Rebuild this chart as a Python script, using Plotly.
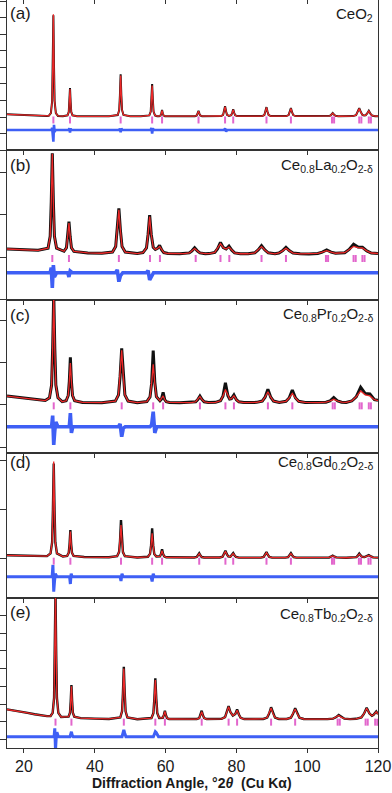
import plotly.graph_objects as go

# ---------------- data ----------------
# (a) CeO2
tt_a = [15.2, 18, 21, 24, 26.5, 27.0,
        27.6, 27.95, 28.125, 28.3, 28.475, 28.65, 29.0,
        29.6, 31.0,
        32.3, 32.65, 32.825, 33.0, 33.175, 33.35, 33.7,
        35, 40, 44,
        46.5, 46.9, 47.1, 47.3, 47.5, 47.7, 48.1,
        50, 53,
        55.4, 55.8, 56.0, 56.2, 56.4, 56.6, 57.0,
        57.6,
        58.2, 58.6, 58.8, 59.0, 59.2, 59.4, 59.8,
        63,
        68.3, 68.8, 69.05, 69.3, 69.55, 69.8, 70.3,
        74,
        75.7, 76.25, 76.525, 76.8, 77.075, 77.35, 77.9,
        78.55, 78.825, 79.1, 79.375, 79.65, 80.2,
        84,
        87.3, 87.9, 88.2, 88.5, 88.8, 89.1, 89.7,
        93,
        94.1, 94.75, 95.075, 95.4, 95.725, 96.05, 96.7,
        102,
        105.6, 106.4, 106.8, 107.2, 107.6, 108.0, 108.8,
        111.5,
        112.9, 113.8, 114.25, 114.7, 115.15, 115.6,
        116.05, 116.5, 116.95, 117.4, 117.85, 118.3, 119.2, 120]
obs_a = [165, 130, 100, 72, 60, 70,
         238, 970, 3105, 6160, 3105, 970, 238,
         65, 50,
         101, 305, 900, 1750, 900, 305, 101,
         45, 40, 45,
         122, 427, 1320, 2595, 1320, 427, 122,
         45, 40,
         98, 332, 1015, 1990, 1015, 332, 98,
         48,
         51, 97, 230, 420, 230, 97, 51,
         40,
         50, 90, 205, 370, 205, 90, 50,
         40,
         59, 133, 350, 660, 350, 133, 70,
         111, 255, 470, 255, 105, 53,
         40,
         57, 124, 320, 600, 320, 124, 57,
         40,
         55, 115, 290, 540, 290, 115, 55,
         40,
         46, 70, 140, 240, 140, 70, 46,
         42,
         55, 115, 290, 540, 297, 125,
         98, 105, 215, 375, 205, 90, 50, 45]
calc_a = [160, 128, 100, 72, 60, 70,
          238, 970, 3105, 6220, 3105, 970, 238,
          65, 50,
          101, 305, 900, 1700, 900, 305, 101,
          45, 40, 45,
          122, 427, 1320, 2520, 1320, 427, 122,
          45, 40,
          98, 332, 1015, 1900, 1015, 332, 98,
          48,
          51, 97, 230, 400, 230, 97, 51,
          40,
          50, 90, 205, 350, 205, 90, 50,
          40,
          59, 133, 350, 630, 350, 133, 70,
          111, 255, 450, 255, 105, 53,
          40,
          57, 124, 320, 580, 320, 124, 57,
          40,
          55, 115, 290, 520, 290, 115, 55,
          40,
          46, 70, 140, 225, 140, 70, 46,
          42,
          55, 115, 290, 520, 297, 125,
          98, 105, 215, 360, 205, 90, 50, 45]
dtt_a = [15.2, 27.8, 27.95, 28.125, 28.3, 28.475, 28.65, 28.9,
         32.65, 32.825, 33.0, 33.175, 33.4,
         46.9, 47.1, 47.3, 47.5, 47.8,
         55.8, 56.0, 56.2, 56.4, 56.7,
         76.5, 76.8, 77.1, 77.4, 120]
diff_a = [-790, -790, -650, -1150, -1500, -480, -900, -790,
          -790, -680, -950, -700, -790,
          -790, -700, -920, -700, -790,
          -790, -660, -1000, -700, -790,
          -790, -700, -880, -790, -790]
bragg_a = [28.3, 33.0, 47.3, 56.2, 59.0, 69.3, 76.8, 79.1, 88.5, 95.4,
           107.0, 107.6, 114.7, 115.3, 117.4, 118.0]

# (b) Ce0.8La0.2O2-d
tt_b = [15.2, 18, 21, 24,
        26.8, 27.4, 27.7, 28.0, 28.3, 28.6, 29.2,
        31.3, 32.0, 32.35, 32.7, 33.05, 33.4, 34.1,
        38, 42,
        45.0, 45.9, 46.35, 46.8, 47.25, 47.7, 48.6,
        52,
        53.6, 54.6, 55.05, 55.5, 55.95, 56.5,
        57.1, 57.7, 58.3, 58.9, 59.5, 60.7,
        64,
        65.2, 66.7, 67.45, 68.2, 68.95, 69.7, 71.2,
        72.3, 73.9, 74.7, 75.5, 76.3,
        77.1, 77.9, 78.7, 79.5, 81.1,
        83.3, 85.2, 86.15, 87.1, 88.05, 89.0, 90.9,
        92.0, 93.0, 94.0, 95.0, 96.0, 98.0,
        100.5, 103.0, 104.25, 105.5, 106.75, 108.0,
        110.6, 111.85, 113.1, 114.35, 115.6, 116.85, 118.1, 120]
obs_b = [190, 182, 172, 160,
         209, 485, 1290, 2440, 1290, 485, 209,
         135, 218, 470, 830, 470, 218, 132,
         95, 88,
         117, 244, 615, 1145, 615, 244, 117,
         80,
         104, 214, 532, 987, 532, 228,
         177, 203, 275, 167, 104, 82,
         75,
         79, 96, 145, 215, 145, 96, 79,
         80, 109, 197, 345, 221,
         189, 255, 160, 96, 77,
         76, 99, 165, 265, 165, 99, 76,
         94, 145, 225, 145, 92, 75,
         73, 84, 115, 165, 115, 88,
         102, 178, 300, 235, 230, 144, 94, 85]
calc_b = [188, 180, 170, 158,
          209, 485, 1290, 2430, 1290, 485, 209,
          135, 218, 470, 800, 470, 218, 132,
          95, 88,
          117, 244, 615, 1110, 615, 244, 117,
          80,
          104, 214, 532, 950, 532, 228,
          177, 203, 250, 167, 104, 82,
          75,
          79, 96, 145, 200, 145, 96, 79,
          80, 109, 197, 312, 221,
          189, 235, 160, 96, 77,
          76, 99, 165, 245, 165, 99, 76,
          94, 145, 205, 145, 92, 75,
          73, 84, 115, 150, 115, 88,
          102, 178, 250, 222, 212, 144, 94, 82]
dtt_b = [15.2, 27.4, 27.7, 28.0, 28.3, 28.6, 29.2,
         32.35, 32.7, 33.05, 33.6,
         45.9, 46.35, 46.8, 47.25, 47.9,
         54.6, 55.05, 55.5, 55.95, 56.6, 120]
diff_b = [-369, -369, -250, -730, -190, -470, -369,
          -369, -470, -330, -369,
          -369, -300, -580, -440, -369,
          -369, -320, -540, -450, -369, -369]
bragg_b = [28.0, 32.7, 46.8, 55.6, 58.4, 68.5, 75.5, 78.0, 87.1, 94.0,
           105.3, 105.9, 113.1, 113.7, 115.6, 116.2]

# (c) Ce0.8Pr0.2O2-d
tt_c = [15.2, 18, 21, 24, 26.0,
        27.2, 27.8, 28.1, 28.4, 28.7, 29.0, 29.6,
        30.8,
        31.9, 32.5, 32.8, 33.1, 33.4, 33.7, 34.3,
        36.5, 42,
        45.8, 46.7, 47.15, 47.6, 48.05, 48.5, 49.4,
        52,
        54.7, 55.6, 56.05, 56.5, 56.95, 57.4,
        58.4, 58.85, 59.3, 59.75, 60.2, 61.1,
        64,
        67.3, 68.5, 69.1, 69.7, 70.3, 70.9, 72.1,
        74.1, 75.5, 76.2, 76.9, 77.6, 78.1,
        78.6, 79.3, 80.0, 80.7, 82.1,
        85.7, 87.3, 88.1, 88.9, 89.7, 90.5, 92.1,
        94.0, 94.9, 95.8, 96.7, 97.6, 99.4,
        103.1, 105.3, 106.4, 107.5, 108.6, 109.7, 111.0,
        112.6, 113.85, 115.1, 116.4, 117.7, 119.0, 120]
obs_c = [212, 185, 155, 125, 105,
         170, 470, 1345, 2650, 1345, 470, 170,
         78,
         100, 225, 560, 1125, 560, 225, 100,
         60, 54,
         92, 240, 680, 1338, 680, 240, 92,
         54,
         81, 190, 510, 1282, 540, 195,
         99, 143, 300, 129, 76, 60,
         54,
         58, 76, 127, 210, 127, 76, 58,
         63, 99, 208, 526, 218, 142,
         149, 236, 125, 75, 58,
         62, 93, 184, 370, 184, 93, 62,
         87, 165, 354, 165, 87, 60,
         56, 66, 94, 175, 94, 66, 60,
         95, 193, 418, 270, 260, 126, 110]
calc_c = [210, 183, 154, 124, 104,
          170, 470, 1345, 2600, 1345, 470, 170,
          78,
          100, 225, 560, 990, 560, 225, 100,
          60, 54,
          92, 240, 680, 1290, 680, 240, 92,
          54,
          81, 190, 510, 960, 510, 195,
          99, 143, 213, 129, 76, 60,
          54,
          58, 76, 127, 200, 127, 76, 58,
          63, 99, 208, 364, 218, 142,
          149, 217, 125, 75, 58,
          62, 93, 184, 314, 184, 93, 62,
          87, 165, 276, 165, 87, 60,
          56, 66, 94, 134, 94, 66, 60,
          95, 193, 330, 240, 213, 126, 105]
dtt_c = [15.2, 27.8, 28.1, 28.4, 28.7, 29.0, 29.6,
         32.8, 33.1, 33.4, 33.8,
         46.7, 47.15, 47.6, 48.05, 48.6,
         55.6, 56.05, 56.5, 56.95, 57.5, 120]
diff_c = [-512, -512, -250, -944, -600, -400, -512,
          -512, -190, -660, -512,
          -512, -450, -748, -550, -512,
          -512, -470, -158, -660, -512, -512]
bragg_c = [28.4, 33.1, 47.6, 56.5, 59.3, 69.7, 76.9, 79.3, 88.9, 95.8,
           107.2, 107.8, 114.8, 115.4, 117.4, 118.0]

# (d) Ce0.8Gd0.2O2-d
tt_d = [15.2, 18, 21, 24, 26.5,
        27.5, 27.95, 28.175, 28.4, 28.625, 28.85, 29.3,
        31,
        32.2, 32.65, 32.875, 33.1, 33.325, 33.55, 34.0,
        37, 44,
        46.3, 46.85, 47.125, 47.4, 47.675, 47.95, 48.5,
        52,
        55.0, 55.6, 55.9, 56.2, 56.5, 56.8, 57.4,
        58.4, 58.7, 59.0, 59.3, 59.6, 60.2,
        65,
        68.1, 68.8, 69.15, 69.5, 69.85, 70.2, 70.9,
        74,
        75.3, 76.1, 76.5, 76.9, 77.3, 77.7,
        78.3, 78.7, 79.1, 79.5, 79.9, 80.7,
        84,
        86.9, 87.7, 88.1, 88.5, 88.9, 89.3, 90.1,
        93,
        93.8, 94.6, 95.0, 95.4, 95.8, 96.2, 97.0,
        104,
        106.2, 106.7, 107.2, 107.7, 108.2,
        111,
        113.1, 113.9, 114.3, 114.7, 115.1, 115.5,
        116.2, 116.8, 117.4, 118.0, 118.6, 120]
obs_d = [75, 70, 65, 60, 58,
         115, 343, 1008, 1950, 1008, 343, 115,
         50,
         64, 128, 304, 592, 304, 128, 64,
         40, 35,
         56, 140, 365, 796, 365, 140, 56,
         30,
         45, 104, 277, 626, 277, 104, 50,
         55, 100, 198, 100, 55, 35,
         27,
         30, 40, 70, 116, 70, 40, 30,
         25,
         30, 46, 97, 170, 97, 51,
         46, 76, 120, 73, 40, 28,
         25,
         28, 42, 83, 140, 83, 42, 28,
         25,
         28, 39, 73, 120, 73, 39, 28,
         25,
         32, 47, 70, 47, 32,
         25,
         28, 38, 68, 110, 71, 45,
         38, 55, 80, 53, 33, 27]
calc_d = [72, 68, 64, 60, 58,
          115, 343, 1008, 1990, 1008, 343, 115,
          50,
          64, 128, 304, 560, 304, 128, 64,
          40, 35,
          56, 140, 365, 694, 365, 140, 56,
          30,
          45, 104, 277, 524, 277, 104, 50,
          55, 100, 170, 100, 55, 35,
          27,
          30, 40, 70, 110, 70, 40, 30,
          25,
          30, 46, 97, 155, 97, 51,
          46, 76, 110, 73, 40, 28,
          25,
          28, 42, 83, 128, 83, 42, 28,
          25,
          28, 39, 73, 110, 73, 39, 28,
          25,
          32, 47, 62, 47, 32,
          25,
          28, 38, 68, 100, 71, 45,
          38, 55, 72, 53, 33, 27]
dtt_d = [15.2, 27.95, 28.175, 28.4, 28.625, 28.85, 29.3,
         32.875, 33.1, 33.325, 33.6,
         47.125, 47.4, 47.675, 48.0,
         55.9, 56.2, 56.5, 56.8, 120]
diff_d = [-361, -361, -122, -667, -450, -300, -361,
          -361, -510, -300, -361,
          -361, -450, -300, -361,
          -361, -460, -300, -361, -361]
bragg_d = [28.4, 33.1, 47.4, 56.2, 59.0, 69.5, 76.9, 79.1, 88.5, 95.4,
           107.0, 107.6, 114.6, 115.2, 117.3, 117.9]

# (e) Ce0.8Tb0.2O2-d
tt_e = [15.2, 17, 19, 21, 23, 25, 26.5, 27.5,
        28.1, 28.5, 28.7, 28.9, 29.1, 29.3, 29.7,
        30.5,
        32.6, 33.0, 33.2, 33.4, 33.6, 33.8, 34.2,
        36, 40, 44,
        47.2, 47.7, 47.95, 48.2, 48.45, 48.7, 49.2,
        52,
        56.0, 56.55, 56.825, 57.1, 57.375, 57.65, 58.2,
        59.2, 59.5, 59.8, 60.1, 60.4, 61.0,
        65,
        68.8, 69.5, 69.85, 70.2, 70.55, 70.9, 71.6,
        74,
        75.8, 76.8, 77.3, 77.8, 78.3, 79.0,
        79.7, 80.2, 80.7, 81.2, 82.2,
        85,
        87.6, 88.7, 89.25, 89.8, 90.35, 90.9, 92.0,
        94.2, 95.4, 96.0, 96.6, 97.2, 97.8, 99.0,
        104,
        105.7, 107.3, 108.1, 108.9, 109.7, 110.5, 112.1,
        113.8, 115.3, 116.05, 116.8, 117.55,
        118.3, 118.75, 119.5, 120]
obs_e = [700, 650, 580, 500, 420, 350, 315, 320,
         500, 1340, 3790, 7400, 3790, 1340, 500,
         265,
         285, 506, 1150, 2073, 1150, 506, 285,
         200, 172, 155,
         238, 592, 1625, 3108, 1625, 592, 238,
         140,
         207, 483, 1288, 2450, 1288, 483, 214,
         222, 373, 622, 363, 206, 152,
         135,
         149, 200, 360, 622, 360, 200, 149,
         135,
         157, 256, 530, 887, 549, 347,
         440, 700, 410, 217, 150,
         135,
         155, 233, 460, 814, 460, 233, 155,
         153, 228, 445, 757, 445, 228, 153,
         135,
         145, 171, 248, 379, 248, 171, 145,
         163, 239, 453, 791, 477,
         335, 387, 580, 430]
calc_e = [690, 640, 575, 495, 418, 350, 315, 320,
          500, 1340, 3790, 7300, 3790, 1340, 500,
          265,
          285, 506, 1150, 2000, 1150, 506, 285,
          200, 172, 155,
          238, 592, 1625, 3000, 1625, 592, 238,
          140,
          207, 483, 1288, 2350, 1288, 483, 214,
          222, 373, 580, 363, 206, 152,
          135,
          149, 200, 360, 560, 360, 200, 149,
          135,
          157, 256, 530, 850, 549, 347,
          440, 650, 410, 217, 150,
          135,
          155, 233, 460, 780, 460, 233, 155,
          153, 228, 445, 720, 445, 228, 153,
          135,
          145, 171, 248, 350, 248, 171, 145,
          163, 239, 453, 760, 477,
          335, 387, 555, 425]
dtt_e = [15.2, 28.5, 28.7, 28.9, 29.1, 29.3, 29.7,
         33.0, 33.2, 33.4, 33.6, 33.9,
         47.7, 47.95, 48.2, 48.45, 48.8,
         56.55, 56.825, 57.1, 57.375, 57.65, 58.0, 120]
diff_e = [-848, -848, -373, -1600, -900, -600, -848,
          -848, -700, -565, -760, -848,
          -848, -700, -469, -650, -848,
          -848, -700, -565, -620, -760, -848, -848]
bragg_e = [28.9, 33.4, 48.2, 57.1, 59.8, 70.2, 77.8, 80.2, 89.8, 96.6,
           108.6, 109.2, 116.5, 117.1, 119.2, 119.8]

panel_letters = ["(a)", "(b)", "(c)", "(d)", "(e)"]
panel_names = ["CeO<sub>2</sub>",
               "Ce<sub>0.8</sub>La<sub>0.2</sub>O<sub>2-δ</sub>",
               "Ce<sub>0.8</sub>Pr<sub>0.2</sub>O<sub>2-δ</sub>",
               "Ce<sub>0.8</sub>Gd<sub>0.2</sub>O<sub>2-δ</sub>",
               "Ce<sub>0.8</sub>Tb<sub>0.2</sub>O<sub>2-δ</sub>"]
x_ticks = [20, 40, 60, 80, 100, 120]

# ---------------- layout / style ----------------
W, H = 392, 793
ML, MR, MT, MB = 7, 14, 0, 45
PW, PH = W - ML - MR, H - MT - MB


def fx(px):
    return (px - ML) / PW


def fy(py):
    return (PH + MT - py) / PH


edges = [0, 150, 300, 453, 598, 748]
yranges = [[-2000, 7090], [-1012, 2518], [-1133, 2478], [-796, 2163], [-1486, 6989]]
bragg_level = [-180, -35, -20, -45, -25]
obs_width = [2.0, 3.0, 3.0, 2.4, 2.4]
diff_width = [2.6, 3.6, 3.6, 3.0, 3.0]
letter_py = [14, 165, 315, 463, 612]
name_py = [15, 165, 314, 463, 614]
XR = [15.2, 120]
FONT = "Liberation Sans, Arial, Helvetica, sans-serif"
BLACK, RED, BLUE, PINK = "#111111", "rgb(236,40,40)", "rgb(62,95,245)", "rgb(226,102,204)"

panels = [
    (tt_a, obs_a, calc_a, dtt_a, diff_a, bragg_a),
    (tt_b, obs_b, calc_b, dtt_b, diff_b, bragg_b),
    (tt_c, obs_c, calc_c, dtt_c, diff_c, bragg_c),
    (tt_d, obs_d, calc_d, dtt_d, diff_d, bragg_d),
    (tt_e, obs_e, calc_e, dtt_e, diff_e, bragg_e),
]

fig = go.Figure()
layout = {}
annotations = []
for i, (tt, obs, calc, dtt, diff, bragg) in enumerate(panels):
    k = i + 1
    xa = "x" if k == 1 else f"x{k}"
    ya = "y" if k == 1 else f"y{k}"
    fig.add_trace(go.Scatter(x=tt, y=obs, xaxis=xa, yaxis=ya, mode="lines",
                             line=dict(color=BLACK, width=obs_width[i]), hoverinfo="skip"))
    fig.add_trace(go.Scatter(x=tt, y=calc, xaxis=xa, yaxis=ya, mode="lines",
                             line=dict(color=RED, width=1.3), hoverinfo="skip"))
    fig.add_trace(go.Scatter(x=dtt, y=diff, xaxis=xa, yaxis=ya, mode="lines",
                             line=dict(color=BLUE, width=diff_width[i]), hoverinfo="skip"))
    fig.add_trace(go.Scatter(x=bragg, y=[bragg_level[i]] * len(bragg), xaxis=xa, yaxis=ya,
                             mode="markers", hoverinfo="skip",
                             marker=dict(symbol="line-ns", size=5,
                                         line=dict(color=PINK, width=2))))
    top, bot = edges[i], edges[i + 1]
    layout["xaxis" if k == 1 else f"xaxis{k}"] = dict(
        domain=[0, 1], range=XR, anchor=ya, showline=True, mirror=True,
        linecolor="#333", linewidth=1, ticks="outside", ticklen=4, tickwidth=1,
        tickcolor="#333", tickvals=x_ticks, showticklabels=(k == 5),
        tickfont=dict(family=FONT, size=16, color="#1a1a1a"),
        showgrid=False, zeroline=False, fixedrange=True)
    layout["yaxis" if k == 1 else f"yaxis{k}"] = dict(
        domain=[fy(bot), fy(top)], range=yranges[i], anchor=xa, showline=True,
        mirror=True, linecolor="#333", linewidth=1, ticks="outside", ticklen=6,
        tickwidth=1, tickcolor="#333", tick0=0, dtick=1000, showticklabels=False,
        showgrid=False, zeroline=False, fixedrange=True)
    annotations.append(dict(xref="paper", yref="paper", x=fx(8), y=fy(letter_py[i]),
                            xanchor="left", yanchor="middle", text=panel_letters[i],
                            showarrow=False, font=dict(family=FONT, size=17, color="#1a1a1a")))
    annotations.append(dict(xref="paper", yref="paper", x=fx(375), y=fy(name_py[i]),
                            xanchor="right", yanchor="middle", text=panel_names[i],
                            showarrow=False, font=dict(family=FONT, size=15, color="#1a1a1a")))

# top tick marks of panel (a)
fig.add_trace(go.Scatter(x=[], y=[], xaxis="x6", yaxis="y", hoverinfo="skip", showlegend=False))
layout["xaxis6"] = dict(overlaying="x", anchor="y", side="top", range=XR, tickvals=x_ticks,
                        ticks="inside", ticklen=4, tickcolor="#333", showticklabels=False,
                        showline=False, showgrid=False, zeroline=False, fixedrange=True)

annotations.append(dict(xref="paper", yref="paper", x=fx(192), y=fy(783),
                        xanchor="center", yanchor="middle",
                        text="<b>Diffraction Angle, °2<i>θ</i>  (Cu Kα)</b>",
                        showarrow=False, font=dict(family=FONT, size=14, color="#1a1a1a")))

fig.update_layout(**layout)
fig.update_layout(width=W, height=H, margin=dict(l=ML, r=MR, t=MT, b=MB, pad=0),
                  paper_bgcolor="white", plot_bgcolor="white", showlegend=False,
                  annotations=annotations)
fig.write_html("out.html", include_plotlyjs=True, config={"displayModeBar": False},
               post_script="document.body.style.margin='0';document.body.style.padding='0';"
                           "document.documentElement.style.overflow='hidden';")
